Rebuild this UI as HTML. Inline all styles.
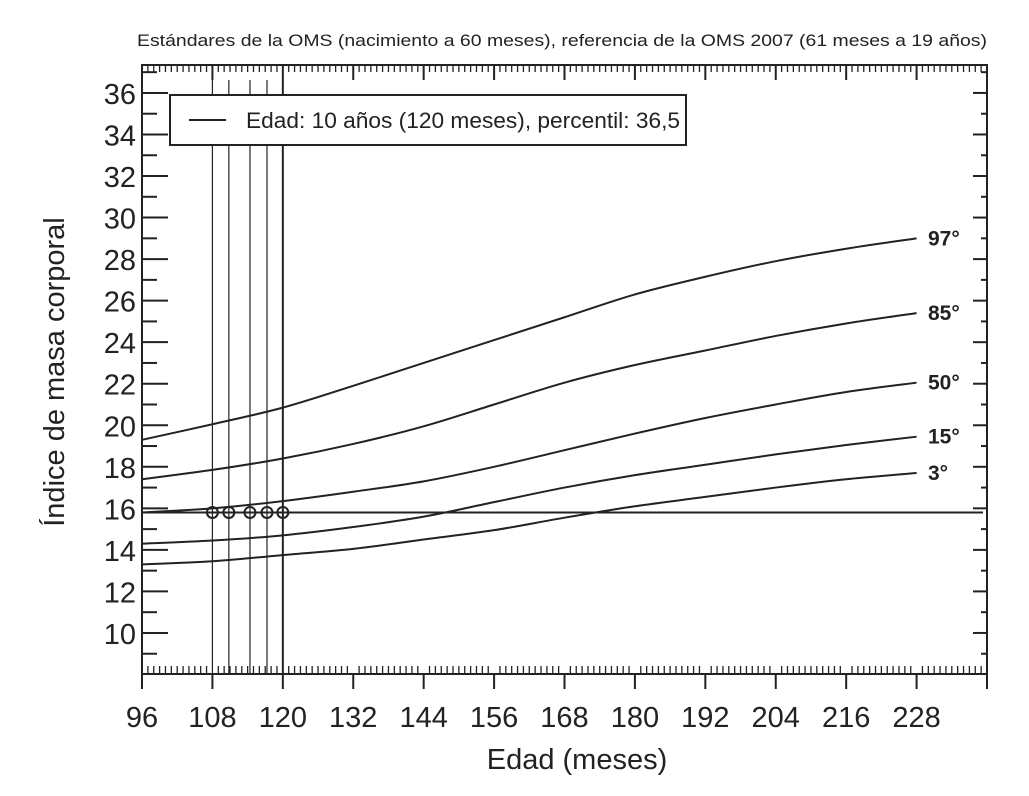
<!DOCTYPE html>
<html><head><meta charset="utf-8"><style>
body{margin:0;background:#fff;font-family:"Liberation Sans",Arial,sans-serif}
svg text{font-family:"Liberation Sans",Arial,sans-serif;fill:#222}
</style></head><body>
<svg id="chart" width="1029" height="791" viewBox="0 0 1029 791" xmlns="http://www.w3.org/2000/svg">
<text x="137" y="46" font-size="17" textLength="850" lengthAdjust="spacingAndGlyphs">Estándares de la OMS (nacimiento a 60 meses), referencia de la OMS 2007 (61 meses a 19 años)</text>
<text transform="translate(64,372) rotate(-90)" font-size="29" text-anchor="middle">Índice de masa corporal</text>
<text x="577" y="769" font-size="29" text-anchor="middle">Edad (meses)</text>
<g id="ticks"></g><g id="marks"></g>
<rect x="142" y="65" width="845" height="609" fill="none" stroke="#222" stroke-width="2"/>
<g>
<rect x="170" y="95" width="516" height="50" fill="#fff" stroke="#222" stroke-width="2"/>
<line x1="189" y1="120" x2="226" y2="120" stroke="#222" stroke-width="2"/>
<text x="246" y="128" font-size="22" textLength="434" lengthAdjust="spacingAndGlyphs">Edad: 10 años (120 meses), percentil: 36,5</text>
</g>
</svg>
<script>
const xTicks=[96,108,120,132,144,156,168,180,192,204,216,228];
const yTicks=[10,12,14,16,18,20,22,24,26,28,30,32,34,36];
const months=[96,108,120,132,144,156,168,180,192,204,216,228];
const p97=[19.3,20.05,20.85,21.9,23.0,24.1,25.2,26.3,27.15,27.9,28.5,29.0];
const p85=[17.4,17.85,18.4,19.1,19.95,21.0,22.05,22.9,23.6,24.3,24.9,25.4];
const p50=[15.8,16.0,16.35,16.8,17.3,18.0,18.8,19.6,20.35,21.0,21.6,22.05];
const p15=[14.3,14.45,14.7,15.1,15.6,16.3,17.0,17.6,18.1,18.6,19.05,19.45];
const p3=[13.3,13.45,13.75,14.05,14.5,14.95,15.55,16.1,16.55,17.0,17.4,17.7];
const seriesNames=["97°","85°","50°","15°","3°"];
const visitMonths=[108,110.8,114.4,117.3,120];
const visitBmi=[15.8,15.8,15.8,15.8,15.8];
const refBmi=15.8;
const X=m=>142+(m-96)*(845/144);
const Y=v=>674.5-(v-8)*20.77;
const NS="http://www.w3.org/2000/svg";
function mk(tag,attrs,parent){const e=document.createElementNS(NS,tag);for(const k in attrs)e.setAttribute(k,attrs[k]);parent.appendChild(e);return e;}
const T=document.getElementById('ticks'),M=document.getElementById('marks');
for(let m=96;m<=240;m++){const x=X(m);const maj=(m-96)%12===0;
 const a=mk('line',{x1:x,y1:65,x2:x,y2:maj?80:72,stroke:'#222','stroke-width':maj?2:1.3},T);
 
 
 const b=mk('line',{x1:x,y1:674,x2:x,y2:maj?689:666,stroke:'#222','stroke-width':maj?2:1.3},T);
 
 }
xTicks.forEach(m=>{const t=mk('text',{x:X(m),y:727,'font-size':29,'text-anchor':'middle'},T);t.textContent=m;
 
 });
for(let v=9;v<=37;v++){const y=Y(v);const maj=v%2===0;
 const a=mk('line',{x1:142,y1:y,x2:maj?168:157,y2:y,stroke:'#222','stroke-width':2},T);
 
 
 const b=mk('line',{x1:987,y1:y,x2:maj?973:981,y2:y,stroke:'#222','stroke-width':2},T);
 
 }
yTicks.forEach(v=>{const t=mk('text',{x:136,y:Y(v)+11,'font-size':29,'text-anchor':'end'},T);t.textContent=v;
 
 });
visitMonths.forEach((m,i)=>{const l=mk('line',{x1:X(m),y1:80,x2:X(m),y2:674,stroke:'#222','stroke-width':i===4?2:1.2},M);
 
 });
const h=mk('line',{x1:142,y1:Y(refBmi),x2:983,y2:Y(refBmi),stroke:'#222','stroke-width':2},M);


function smooth(pts){let d=`M${pts[0][0]},${pts[0][1]}`;for(let i=0;i<pts.length-1;i++){const p0=pts[i-1]||pts[i],p1=pts[i],p2=pts[i+1],p3=pts[i+2]||p2;
 d+=` C${p1[0]+(p2[0]-p0[0])/6},${p1[1]+(p2[1]-p0[1])/6} ${p2[0]-(p3[0]-p1[0])/6},${p2[1]-(p3[1]-p1[1])/6} ${p2[0]},${p2[1]}`;}return d;}
[p97,p85,p50,p15,p3].forEach((s,i)=>{const pts=months.map((m,j)=>[X(m),Y(s[j])]);
 const p=mk('path',{d:smooth(pts),fill:'none',stroke:'#222','stroke-width':2},M);
 
 
 const t=mk('text',{x:928,y:Y(s[s.length-1])+7,'font-size':21,'font-weight':'bold'},M);t.textContent=seriesNames[i];
 
 });
visitMonths.forEach((m,i)=>{const c=mk('circle',{cx:X(m),cy:Y(visitBmi[i]),r:5.5,fill:'none',stroke:'#222','stroke-width':2},M);
 
 });
</script>
</body></html>
